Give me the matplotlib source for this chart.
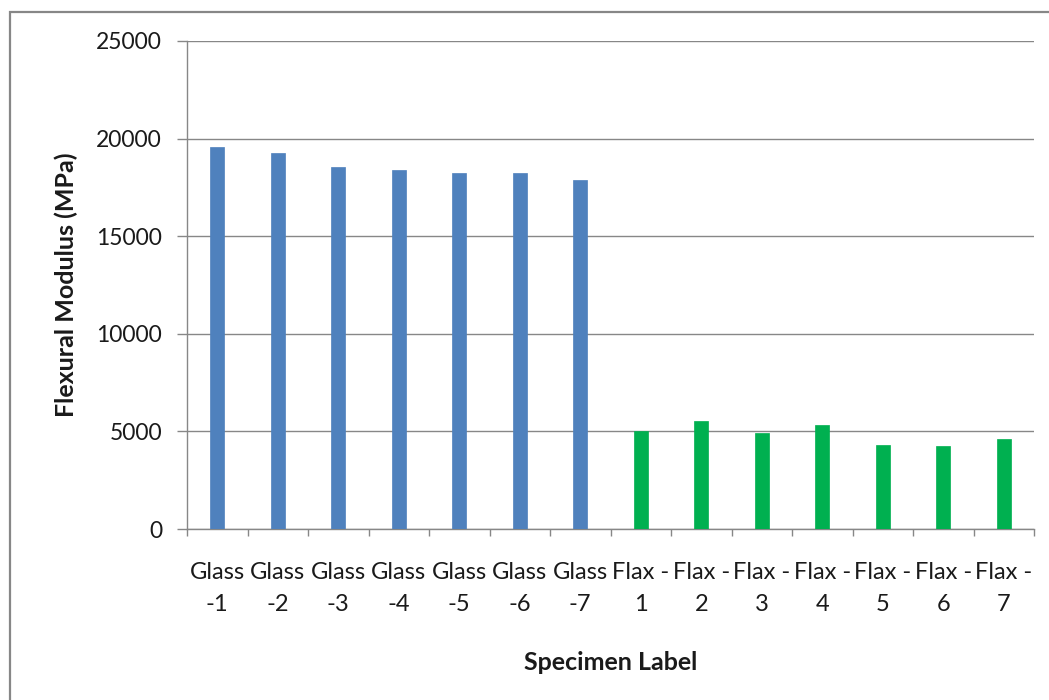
import matplotlib
matplotlib.use("Agg")
import matplotlib.pyplot as plt
from matplotlib.patches import Rectangle
import numpy as np

plt.rcParams['font.family'] = ['Lato', 'DejaVu Sans']

categories = ["Glass\n-1", "Glass\n-2", "Glass\n-3", "Glass\n-4", "Glass\n-5", "Glass\n-6", "Glass\n-7",
              "Flax -\n1", "Flax -\n2", "Flax -\n3", "Flax -\n4", "Flax -\n5", "Flax -\n6", "Flax -\n7"]
glass_values = [19590, 19270, 18550, 18410, 18225, 18225, 17890]
flax_values = [5015, 5550, 4900, 5310, 4320, 4230, 4625]
y_ticks = [0, 5000, 10000, 15000, 20000, 25000]

blue = "#4F81BD"
green = "#00B050"
grid_gray = "#878787"

fig = plt.figure(figsize=(10.49, 7.0), dpi=100)
ax = fig.add_axes([187/1049, 1 - 529/700, (1034 - 187)/1049, (529 - 41)/700])

values = glass_values + flax_values
colors = [blue] * len(glass_values) + [green] * len(flax_values)
x = np.arange(len(categories))
ax.bar(x, values, width=0.23, color=colors, edgecolor=colors, linewidth=0.5, zorder=3)

ax.set_xlim(-0.5, len(categories) - 0.5)
ax.set_ylim(0, 25000)
ax.set_yticks(y_ticks)
ax.set_yticklabels([str(v) for v in y_ticks])
ax.yaxis.grid(True, color=grid_gray, linewidth=1.0, zorder=0)
ax.set_axisbelow(True)

ax.set_xticks(np.arange(-0.5, len(categories), 1.0))
ax.set_xticklabels([])
ax.set_xticks(x, minor=True)
ax.set_xticklabels(categories, minor=True, fontsize=17, color="#1a1a1a", linespacing=1.6)
ax.tick_params(axis='x', which='minor', length=0, pad=24)
ax.tick_params(axis='x', which='major', length=5, color=grid_gray, width=1)
ax.tick_params(axis='y', length=7, color=grid_gray, width=1, labelsize=16.5, labelcolor="#1a1a1a", pad=11)

for s in ['top', 'right']:
    ax.spines[s].set_visible(False)
for s in ['left', 'bottom']:
    ax.spines[s].set_color(grid_gray)
    ax.spines[s].set_linewidth(1.0)

ax.set_ylabel("Flexural Modulus (MPa)", fontsize=18, fontweight='bold', color="#1a1a1a", labelpad=13)
ax.set_xlabel("Specimen Label", fontsize=18, fontweight='bold', color="#1a1a1a", labelpad=26)

border = Rectangle((9.5/1049, -0.05), 1.1, 1 - 11.5/700 + 0.05, transform=fig.transFigure,
                   fill=False, edgecolor=grid_gray, linewidth=1.6)
fig.patches.append(border)

fig.savefig("out.png", dpi=100, facecolor="white")
